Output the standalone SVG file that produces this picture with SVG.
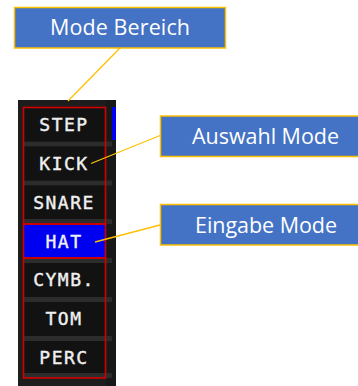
<svg xmlns="http://www.w3.org/2000/svg" width="358" height="386" viewBox="0 0 358 386">
  <style>
    .callout rect { fill: #4472C4; stroke: #FFC000; stroke-width: 1.5; }
    .callout text { fill: #ffffff; font-family: "Open Sans", "Liberation Sans", sans-serif; font-size: 21.5px; text-anchor: middle; }
    .btn rect.face { fill: #121212; }
    .btn rect.sel { fill: #0000f0; }
    .btn text { fill: #f0f0f0; font-family: "DejaVu Sans Mono", monospace; font-size: 18px; letter-spacing: 1.5px; text-anchor: middle; stroke: #f0f0f0; stroke-width: 0.4; }
    .band { fill: #2c2c2c; }
    .frame { fill: none; stroke: #d00000; stroke-width: 1.6; }
    .conn line { stroke: #FFC000; stroke-width: 1.3; }
  </style>

  <rect width="358" height="386" fill="#ffffff"/>

  <!-- instrument panel -->
  <g id="panel">
    <rect x="18" y="100" width="98" height="286" fill="#1d1d1d"/>
    <rect x="106" y="100" width="10" height="286" fill="#181818"/>
    <rect x="112" y="107" width="4" height="33" fill="#0000f0"/>
    <!-- separator bands -->
    <rect class="band" x="23" y="141.5" width="89" height="5"/>
    <rect class="band" x="23" y="180.5" width="89" height="5"/>
    <rect class="band" x="23" y="219" width="89" height="5"/>
    <rect class="band" x="23" y="258" width="89" height="5"/>
    <rect class="band" x="23" y="297" width="89" height="5"/>
    <rect class="band" x="23" y="336" width="89" height="5"/>
    <rect class="band" x="23" y="373" width="89" height="5"/>
  </g>

  <g id="btn-step" class="btn"><rect class="face" x="24" y="108" width="81" height="33.5"/><text x="64" y="131">STEP</text></g>
  <g id="btn-kick" class="btn"><rect class="face" x="24" y="146.5" width="81" height="34"/><text x="64" y="170">KICK</text></g>
  <g id="btn-snare" class="btn"><rect class="face" x="24" y="185.5" width="81" height="33.5"/><text x="64" y="209">SNARE</text></g>
  <g id="btn-hat" class="btn"><rect class="sel" x="24" y="224" width="81" height="34"/><text x="64" y="247.5">HAT</text></g>
  <g id="btn-cymb" class="btn"><rect class="face" x="24" y="263" width="81" height="34"/><text x="64" y="286">CYMB.</text></g>
  <g id="btn-tom" class="btn"><rect class="face" x="24" y="302" width="81" height="34"/><text x="64" y="325">TOM</text></g>
  <g id="btn-perc" class="btn"><rect class="face" x="24" y="341" width="81" height="32"/><text x="64" y="363.5">PERC</text></g>

  <!-- red group frames -->
  <g id="frames">
    <rect class="frame" x="23.5" y="107.5" width="82" height="116.5"/>
    <rect class="frame" x="23.5" y="224" width="82" height="34"/>
    <rect class="frame" x="23.5" y="258" width="82" height="120"/>
  </g>

  <!-- connectors -->
  <g id="connectors" class="conn">
    <line x1="120" y1="48" x2="68" y2="101"/>
    <line x1="160" y1="135.5" x2="91" y2="163.5"/>
    <line x1="160" y1="225" x2="95" y2="242"/>
  </g>

  <!-- callouts -->
  <g id="callout-mode-bereich" class="callout">
    <rect x="14.5" y="7.5" width="211" height="40.5"/>
    <text x="120" y="35" textLength="140">Mode Bereich</text>
  </g>
  <g id="callout-auswahl" class="callout">
    <rect x="160.5" y="116" width="200" height="40.5"/>
    <text x="265.5" y="144" textLength="147">Auswahl Mode</text>
  </g>
  <g id="callout-eingabe" class="callout">
    <rect x="160.5" y="204.5" width="200" height="40.5"/>
    <text x="266" y="232.5" textLength="142">Eingabe Mode</text>
  </g>
</svg>
